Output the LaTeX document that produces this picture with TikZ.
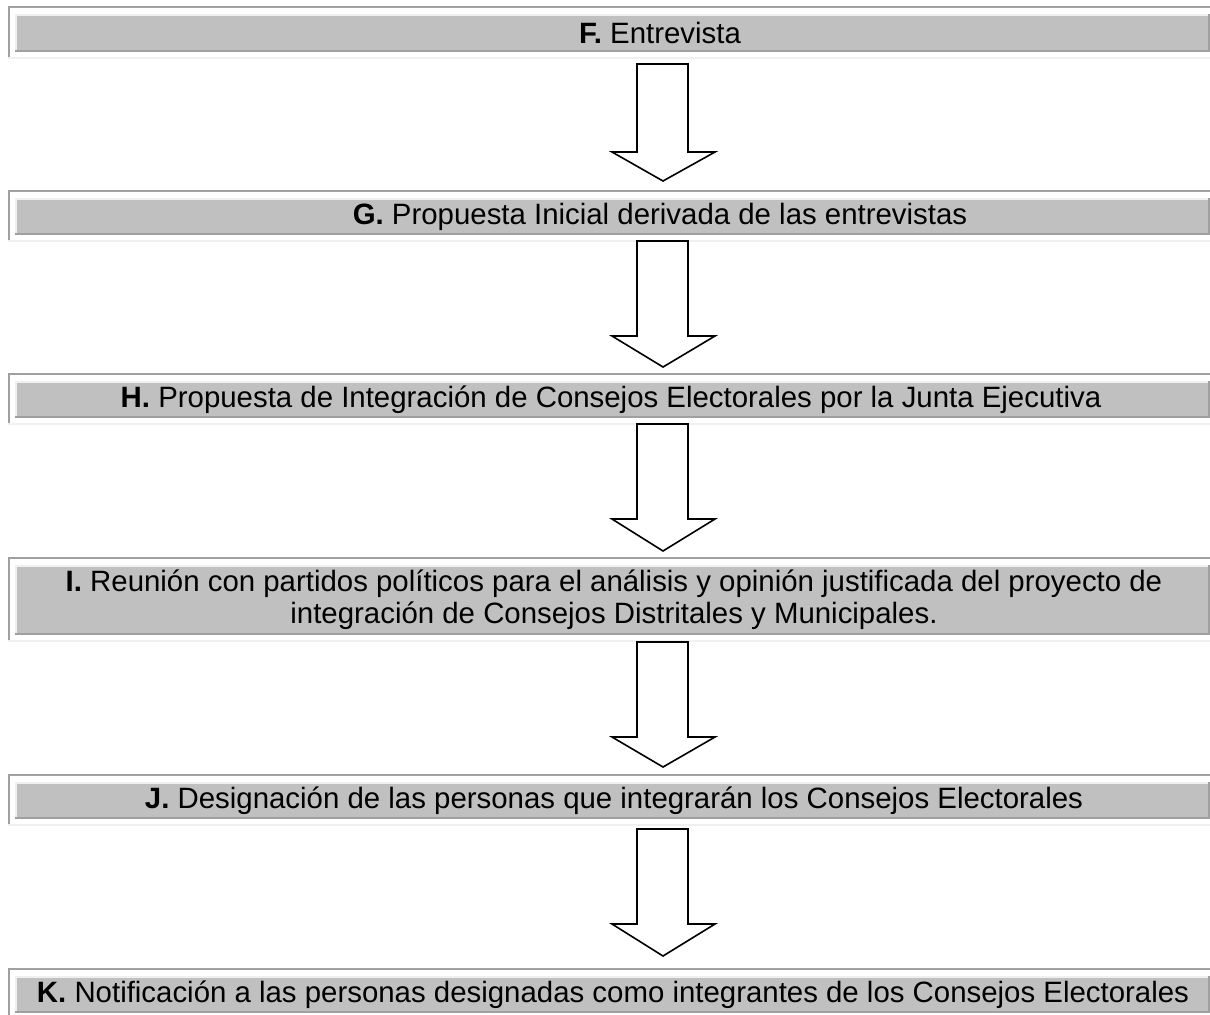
\documentclass[tikz,border=0pt]{standalone}
\usepackage{fontspec}
\setmainfont{Liberation Sans}
\usetikzlibrary{positioning,calc}

\definecolor{cellgray}{HTML}{C0C0C0}
\definecolor{edgedark}{HTML}{A0A0A0}
\definecolor{edgelight}{HTML}{F0F0F0}

\tikzset{
  steptext/.style={font=\fontsize{14.7}{16}\selectfont, align=center, inner sep=0pt},
  darkedge/.style={draw=edgedark, line width=1pt},
  lightedge/.style={draw=edgelight, line width=1pt},
  blockarrow/.style={draw=black, line width=0.8pt, fill=white, line join=miter}
}

% one step: name, outer top, cell bottom, text centre, text
\newcommand{\stepbox}[5]{
  \fill[cellgray] (17,#2+10) rectangle (1208,#3);
  \draw[darkedge] (8,#2+1) -- (1210,#2+1);
  \draw[darkedge] (9,#2) -- (9,#3+9);
  \draw[lightedge] (15,#2+9) -- (1210,#2+9);
  \draw[lightedge] (16,#2+8) -- (16,#3);
  \draw[darkedge] (15,#3+1) -- (1210,#3+1);
  \draw[darkedge] (1209,#2+8) -- (1209,#3+2);
  \draw[lightedge] (8,#3+8) -- (1210,#3+8);
  \node[steptext] (#1) at (#4,{(#2+10+#3)/2}) {#5};
}

\begin{document}
\begin{tikzpicture}[x=0.5pt, y=-0.5pt]
    \useasboundingbox (0,0) rectangle (1210,1014);

    % Steps
    \stepbox{stepF}{6}{50}{660}{\textbf{F.} Entrevista}
    \stepbox{stepG}{190}{233}{660}{\textbf{G.} Propuesta Inicial derivada de las entrevistas}
    \stepbox{stepH}{373}{416}{611}{\textbf{H.} Propuesta de Integración de Consejos Electorales por la Junta Ejecutiva}
    \stepbox{stepI}{557}{633}{614}{\textbf{I.} Reunión con partidos políticos para el análisis y opinión justificada del proyecto de\\integración de Consejos Distritales y Municipales.}
    \stepbox{stepJ}{774}{817}{614}{\textbf{J.} Designación de las personas que integrarán los Consejos Electorales}
    \stepbox{stepK}{968}{1011}{613}{\textbf{K.} Notificación a las personas designadas como integrantes de los Consejos Electorales}

    % Arrows between steps
    \foreach \ya/\yb/\yc in {64/152/181, 241/336/367, 424/519/551, 642/737/767, 829/924/956}{
        \draw[blockarrow] (637,\ya) -- (688,\ya) -- (688,\yb) -- (715,\yb)
            -- (663,\yc) -- (612,\yb) -- (637,\yb) -- cycle;
    }
\end{tikzpicture}
\end{document}
